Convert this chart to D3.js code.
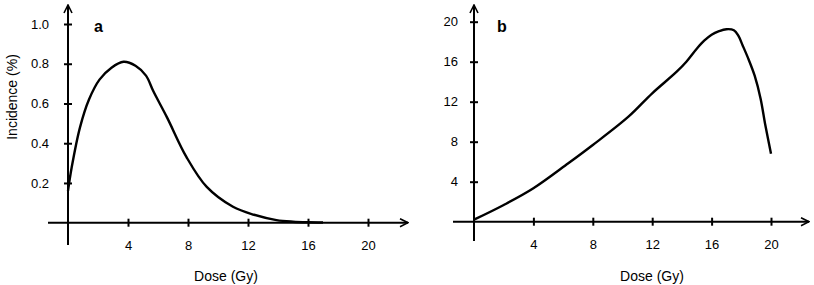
<!DOCTYPE html>
<html>
<head>
<meta charset="utf-8">
<script src="https://cdn.jsdelivr.net/npm/d3@7"></script>
<style>
  body { margin: 0; background: #fff; }
  svg { display: block; font-family: "Liberation Sans", Arial, sans-serif; }
</style>
</head>
<body>
<svg id="chart" width="814" height="285"></svg>
<script>
// dose (Gy) vs incidence
const doseA = [0, 0.25, 0.8, 1.4, 2.1, 2.9, 3.7, 4.5, 5.2, 5.7, 6.6, 7.9, 9.25, 11, 12.4, 13.9, 15, 16, 17];
const incA  = [0.16, 0.28, 0.48, 0.62, 0.72, 0.78, 0.81, 0.79, 0.74, 0.66, 0.53, 0.33, 0.18, 0.08, 0.04, 0.013, 0.005, 0.002, 0.001];

const doseB = [0, 2, 4, 6.35, 8, 10.4, 12, 13.65, 14.3, 15, 15.5, 16, 16.5, 17, 17.5, 17.8, 18.1, 18.5, 18.9, 19.3, 19.6, 20];
const incB  = [0.2, 1.67, 3.34, 5.84, 7.67, 10.5, 12.84, 15, 16, 17.3, 18.1, 18.7, 19.05, 19.25, 19.15, 18.6, 17.6, 16.2, 14.6, 12.3, 9.8, 6.8];

const xTicks = [4, 8, 12, 16, 20];
const yTicksA = [0.2, 0.4, 0.6, 0.8, 1.0];
const yTicksB = [4, 8, 12, 16, 20];

const svg = d3.select("#chart");

svg.append("defs").append("marker")
  .attr("id", "arrow")
  .attr("viewBox", "0 0 10 10")
  .attr("refX", 9).attr("refY", 5)
  .attr("markerWidth", 10).attr("markerHeight", 10)
  .attr("markerUnits", "userSpaceOnUse")
  .attr("orient", "auto")
  .append("path")
  .attr("d", "M1,1 L9,5 L1,9")
  .attr("fill", "none").attr("stroke", "#000").attr("stroke-width", 1.6);

function panel(opt) {
  const x = d3.scaleLinear().domain([0, 20]).range([opt.x0, opt.x20]);
  const y = d3.scaleLinear().domain([0, opt.yMax]).range([opt.y0, opt.yTop]);
  const g = svg.append("g");

  // axes lines with arrows
  g.append("line")
    .attr("x1", opt.xStart).attr("y1", y(0)).attr("x2", opt.xEnd).attr("y2", y(0))
    .attr("stroke", "#000").attr("stroke-width", 2).attr("marker-end", "url(#arrow)");
  g.append("line")
    .attr("x1", x(0)).attr("y1", opt.yBottom).attr("x2", x(0)).attr("y2", 5)
    .attr("stroke", "#000").attr("stroke-width", 2).attr("marker-end", "url(#arrow)");

  // x ticks
  const xa = g.append("g").attr("transform", `translate(0,${y(0)})`)
    .call(d3.axisBottom(x).tickValues(xTicks).tickSize(0).tickPadding(18));
  xa.select(".domain").remove();
  xa.selectAll(".tick line").attr("y1", -4).attr("y2", 4).attr("stroke-width", 2);
  xa.selectAll(".tick text").attr("font-size", 13).attr("font-family", "Liberation Sans, Arial, sans-serif");

  // y ticks
  const ya = g.append("g").attr("transform", `translate(${x(0)},0)`)
    .call(d3.axisLeft(y).tickValues(opt.yTicks).tickSize(0).tickPadding(opt.yPad)
      .tickFormat(opt.fmt));
  ya.select(".domain").remove();
  ya.selectAll(".tick line").attr("x1", -4).attr("x2", 4).attr("stroke-width", 2);
  ya.selectAll(".tick text").attr("font-size", 13).attr("font-family", "Liberation Sans, Arial, sans-serif");

  // curve
  const line = d3.line().x(d => x(d[0])).y(d => y(d[1])).curve(d3.curveCatmullRom.alpha(0.5));
  g.append("path")
    .datum(opt.dose.map((d, i) => [d, opt.inc[i]]))
    .attr("d", line)
    .attr("fill", "none").attr("stroke", "#000").attr("stroke-width", 2.4);

  // labels
  g.append("text").attr("x", opt.letterX).attr("y", 32)
    .attr("font-size", 16).attr("font-weight", "bold").text(opt.letter);
  g.append("text").attr("x", opt.titleX).attr("y", 281)
    .attr("text-anchor", "middle").attr("font-size", 14).text("Dose (Gy)");
}

panel({
  x0: 68, x20: 368, y0: 222.7, yTop: 24, yMax: 1.0,
  xStart: 48, xEnd: 408, yBottom: 245, yPad: 19,
  yTicks: yTicksA, fmt: d3.format(".1f"),
  dose: doseA, inc: incA, letter: "a", letterX: 94, titleX: 226
});

panel({
  x0: 474, x20: 771, y0: 221.7, yTop: 21.7, yMax: 20,
  xStart: 453, xEnd: 809, yBottom: 241, yPad: 16,
  yTicks: yTicksB, fmt: d3.format("d"),
  dose: doseB, inc: incB, letter: "b", letterX: 497, titleX: 652
});

svg.append("text")
  .attr("transform", "translate(17,97) rotate(-90)")
  .attr("text-anchor", "middle").attr("font-size", 14)
  .text("Incidence (%)");
</script>
</body>
</html>
